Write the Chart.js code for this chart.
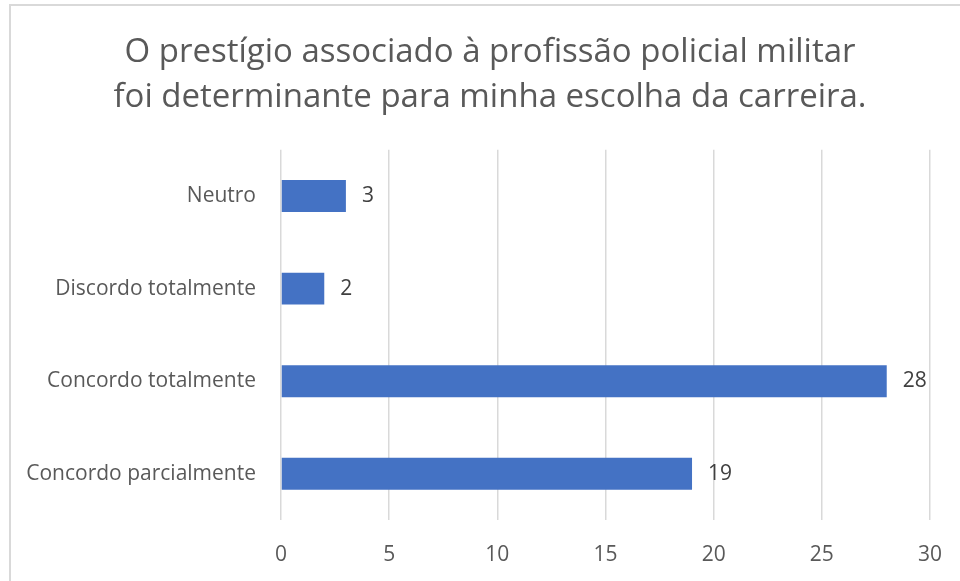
<!DOCTYPE html>
<html>
<head>
<meta charset="utf-8">
<script src="https://cdn.jsdelivr.net/npm/chart.js@4"></script>
<style>
  body { margin: 0; background: #fff; }
  #frame { position: absolute; left: 9px; top: 4px; width: 1000px; height: 640px;
           border-left: 2px solid #d9d9d9; border-top: 2px solid #d9d9d9; }
  #wrap { position: absolute; left: 0; top: 0; width: 960px; height: 581px; }
</style>
</head>
<body>
<div id="frame"></div>
<div id="wrap"><canvas id="barChart"></canvas></div>
<script>
const categories = ['Neutro', 'Discordo totalmente', 'Concordo totalmente', 'Concordo parcialmente'];
const respostas = [3, 2, 28, 19];
const xTicks = [0, 5, 10, 15, 20, 25, 30];
const titleLines = ['O prestígio associado à profissão policial militar', 'foi determinante para minha escolha da carreira.'];

const fontFamily = "'Open Sans', 'Noto Sans', sans-serif";

// draws the value just past the end of each bar
const valueLabels = {
    id: 'valueLabels',
    afterDatasetsDraw(chart) {
        const ctx = chart.ctx;
        const meta = chart.getDatasetMeta(0);
        ctx.save();
        ctx.font = '21px ' + fontFamily;
        ctx.fillStyle = '#404040';
        ctx.textAlign = 'left';
        ctx.textBaseline = 'middle';
        meta.data.forEach(function(bar, i) {
            ctx.fillText(String(chart.data.datasets[0].data[i]), bar.x + 16, bar.y);
        });
        ctx.restore();
    }
};

// the title in the original sits a bit right of the canvas centre
const shiftTitle = {
    id: 'shiftTitle',
    afterLayout(chart) {
        if (chart.titleBlock) {
            chart.titleBlock.left = 50;
            chart.titleBlock.right = 930;
        }
    }
};

const ctx = document.getElementById('barChart').getContext('2d');
new Chart(ctx, {
    type: 'bar',
    data: {
        labels: categories,
        datasets: [{
            data: respostas,
            backgroundColor: '#4472C4',
            categoryPercentage: 1,
            barPercentage: 0.345
        }]
    },
    options: {
        indexAxis: 'y',
        responsive: true,
        maintainAspectRatio: false,
        animation: false,
        layout: { padding: { left: 0, right: 30, top: 0, bottom: 11 } },
        plugins: {
            legend: { display: false },
            tooltip: { enabled: false },
            title: {
                display: true,
                text: titleLines,
                color: '#595959',
                font: { family: fontFamily, size: 33, weight: 'normal', lineHeight: 1.36 },
                padding: { top: 30, bottom: 30 }
            }
        },
        scales: {
            x: {
                min: 0,
                max: 30,
                afterBuildTicks: function(scale) {
                    scale.ticks = xTicks.map(function(v) { return { value: v }; });
                },
                afterFit: function(scale) {
                    scale.height = 50;
                    scale.paddingLeft = 0;
                    scale.paddingRight = 0;
                },
                grid: { color: '#d9d9d9', lineWidth: 1.5, drawTicks: false },
                border: { display: false },
                ticks: {
                    color: '#595959',
                    padding: 22,
                    font: { family: fontFamily, size: 21 }
                }
            },
            y: {
                grid: { display: false },
                border: { display: false },
                afterFit: function(scale) { scale.width = 281; },
                ticks: {
                    color: '#595959',
                    padding: 17,
                    font: { family: fontFamily, size: 21 }
                }
            }
        }
    },
    plugins: [valueLabels, shiftTitle]
});
</script>
</body>
</html>
